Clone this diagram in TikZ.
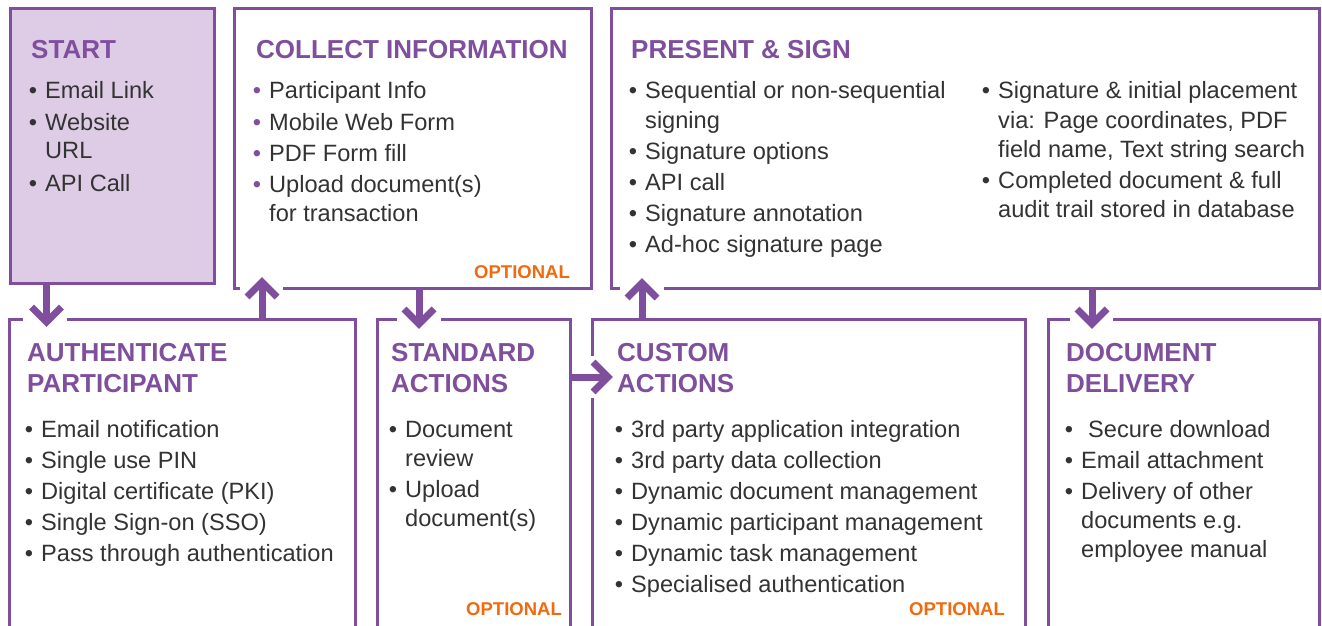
\documentclass[tikz,border=0pt]{standalone}
\usepackage{fontspec}
\setmainfont{Liberation Sans}
\usetikzlibrary{calc}
\definecolor{pur}{HTML}{7F4F9E}
\definecolor{startfill}{HTML}{DECCE6}
\definecolor{txt}{HTML}{333333}
\definecolor{org}{HTML}{F06A0E}
\newcommand\bu{\llap{\textcolor{txt}{•}\kern8pt}}
\newcommand\pbu{\llap{\textcolor{pur}{•}\kern8pt}}
\tikzset{
  box/.style={draw=pur, line width=3pt, rectangle, inner sep=0pt, outer sep=0pt},
  ttl/.style={anchor=base west, inner sep=0pt, text=pur, font=\fontsize{26}{31}\selectfont\bfseries},
  bd/.style={anchor=base west, inner sep=0pt, text=txt, font=\fontsize{23.6}{28}\selectfont},
  opt/.style={anchor=base east, inner sep=0pt, text=org, font=\fontsize{18.5}{22}\selectfont\bfseries},
  arr/.style={draw=pur, line width=7pt, line join=miter, line cap=butt},
  gap/.style={fill=white}
}
\begin{document}
\begin{tikzpicture}[x=1pt,y=-1pt]
\useasboundingbox (0,0) rectangle (1322,626);
\clip (0,0) rectangle (1322,626);
\fill[white] (0,0) rectangle (1322,626);

% boxes
\node[box, fill=startfill, minimum width=204pt, minimum height=274.5pt] (start) at (112,145.75) {};
\node[box, minimum width=356.5pt, minimum height=279.5pt] (collect) at (412.75,148.25) {};
\node[box, minimum width=708pt, minimum height=279.5pt] (present) at (965.5,148.25) {};
\node[box, minimum width=346pt, minimum height=341pt] (auth) at (182,489.5) {};
\node[box, minimum width=192.5pt, minimum height=341pt] (std) at (473.75,489.5) {};
\node[box, minimum width=433pt, minimum height=341pt] (custom) at (809,489.5) {};
\node[box, minimum width=271pt, minimum height=341pt] (deliv) at (1184,489.5) {};

% gaps in borders around arrow heads
\fill[gap] (23,315) rectangle (67,323);
\fill[gap] (240,284) rectangle (283,292);
\fill[gap] (397,315) rectangle (441,323);
\fill[gap] (620,284) rectangle (664,292);
\fill[gap] (588,356) rectangle (597,398);
\fill[gap] (1070,315) rectangle (1113,323);

% arrow columns
\coordinate (x1) at (46.5,0);
\coordinate (x2) at (262,0);
\coordinate (x3) at (419,0);
\coordinate (x4) at (642,0);
\coordinate (y5) at (0,377);
\coordinate (x6) at (1092,0);
% tips
\coordinate (t1) at (46.5,322);
\coordinate (t2) at (262,282);
\coordinate (t3) at (419,324);
\coordinate (t4) at (642,283);
\coordinate (t5) at (608,377);
\coordinate (t6) at (1092,324);

\draw[arr] (x1 |- start.south) -- (t1);
\draw[arr] (t1) ++(-15,-15) -- (t1) -- ++(15,-15);
\draw[arr] (x2 |- auth.north) -- (t2);
\draw[arr] (t2) ++(-15,15) -- (t2) -- ++(15,15);
\draw[arr] (x3 |- collect.south) -- (t3);
\draw[arr] (t3) ++(-15,-15) -- (t3) -- ++(15,-15);
\draw[arr] (x4 |- custom.north) -- (t4);
\draw[arr] (t4) ++(-15,15) -- (t4) -- ++(15,15);
\draw[arr] (std.east |- y5) -- (t5);
\draw[arr] (t5) ++(-15,-15) -- (t5) -- ++(-15,15);
\draw[arr] (x6 |- present.south) -- (t6);
\draw[arr] (t6) ++(-15,-15) -- (t6) -- ++(15,-15);

% START
\node[ttl] (startT) at (31,59) {START};
\node[bd] (s1) at (45,99) {\bu Email Link};
\node[bd] (s2) at (45,130) {\bu Website};
\node[bd] (s3) at (45,158) {URL};
\node[bd] (s4) at (45,191) {\bu API Call};

% COLLECT
\node[ttl] (collectT) at (256,59) {COLLECT INFORMATION};
\node[bd] (c1) at (269,99) {\pbu Participant Info};
\node[bd] (c2) at (269,130) {\pbu Mobile Web Form};
\node[bd] (c3) at (269,161) {\pbu PDF Form fill};
\node[bd] (c4) at (269,192) {\pbu Upload document(s)};
\node[bd] (c5) at (269,221) {for transaction};
\node[opt] (collectO) at (570,278) {OPTIONAL};

% PRESENT
\node[ttl] (presentT) at (631,59) {PRESENT \& SIGN};
\node[bd] (p1) at (645,99) {\bu Sequential or non-sequential};
\node[bd] (p2) at (645,128) {signing};
\node[bd] (p3) at (645,159) {\bu Signature options};
\node[bd] (p4) at (645,190) {\bu API call};
\node[bd] (p5) at (645,221) {\bu Signature annotation};
\node[bd] (p6) at (645,252) {\bu Ad-hoc signature page};
\node[bd] (q1) at (998,99) {\bu Signature \& initial placement};
\node[bd] (q2) at (998,128) {via: Page coordinates, PDF};
\node[bd] (q3) at (998,157) {field name, Text string search};
\node[bd] (q4) at (998,188) {\bu Completed document \& full};
\node[bd] (q5) at (998,217) {audit trail stored in database};

% AUTH
\node[ttl] (authT1) at (27,361) {AUTHENTICATE};
\node[ttl] (authT2) at (27,392) {PARTICIPANT};
\node[bd] (a1) at (41,437) {\bu Email notification};
\node[bd] (a2) at (41,468) {\bu Single use PIN};
\node[bd] (a3) at (41,499) {\bu Digital certificate (PKI)};
\node[bd] (a4) at (41,530) {\bu Single Sign-on (SSO)};
\node[bd] (a5) at (41,561) {\bu Pass through authentication};

% STANDARD
\node[ttl] (stdT1) at (391,361) {STANDARD};
\node[ttl] (stdT2) at (391,392) {ACTIONS};
\node[bd] (d1) at (405,437) {\bu Document};
\node[bd] (d2) at (405,466) {review};
\node[bd] (d3) at (405,497) {\bu Upload};
\node[bd] (d4) at (405,526) {document(s)};
\node[opt] (stdO) at (562,615) {OPTIONAL};

% CUSTOM
\node[ttl] (customT1) at (617,361) {CUSTOM};
\node[ttl] (customT2) at (617,392) {ACTIONS};
\node[bd] (u1) at (631,437) {\bu 3rd party application integration};
\node[bd] (u2) at (631,468) {\bu 3rd party data collection};
\node[bd] (u3) at (631,499) {\bu Dynamic document management};
\node[bd] (u4) at (631,530) {\bu Dynamic participant management};
\node[bd] (u5) at (631,561) {\bu Dynamic task management};
\node[bd] (u6) at (631,592) {\bu Specialised authentication};
\node[opt] (customO) at (1005,615) {OPTIONAL};

% DELIVERY
\node[ttl] (delivT1) at (1066,361) {DOCUMENT};
\node[ttl] (delivT2) at (1066,392) {DELIVERY};
\node[bd] (e1) at (1081,437) {\bu\kern7pt Secure download};
\node[bd] (e2) at (1081,468) {\bu Email attachment};
\node[bd] (e3) at (1081,499) {\bu Delivery of other};
\node[bd] (e4) at (1081,528) {documents e.g.};
\node[bd] (e5) at (1081,557) {employee manual};
\end{tikzpicture}
\end{document}
